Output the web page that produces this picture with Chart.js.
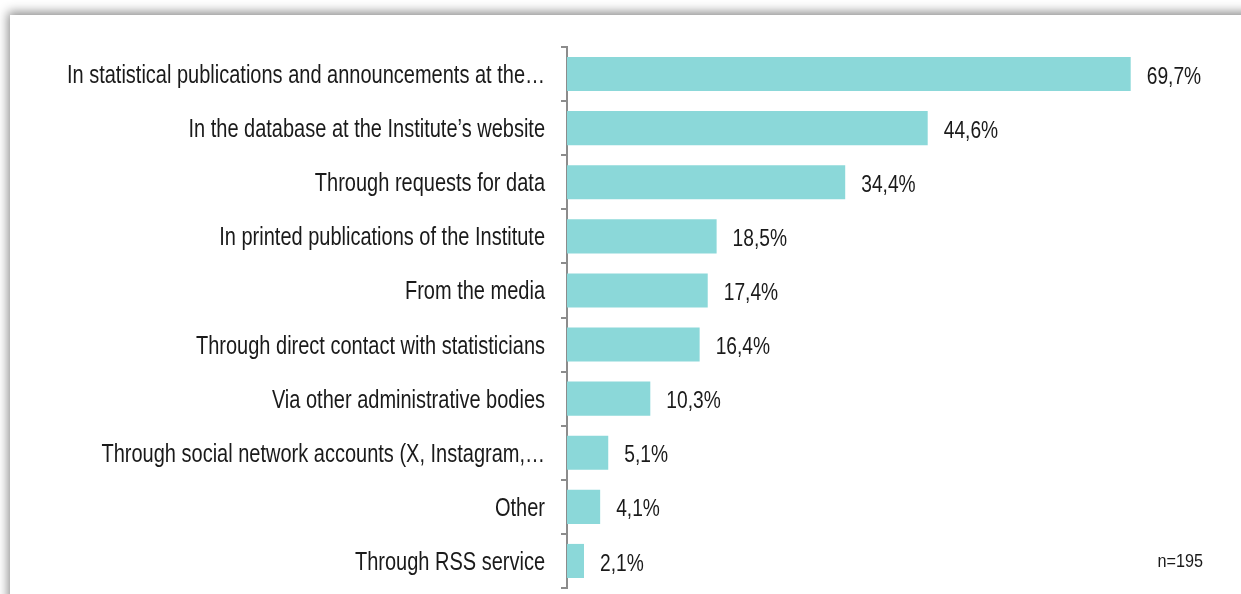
<!DOCTYPE html>
<html>
<head>
<meta charset="utf-8">
<script src="https://cdn.jsdelivr.net/npm/chart.js@4.4.1/dist/chart.umd.min.js"></script>
<style>
  html, body { margin: 0; padding: 0; background: #ffffff; overflow: hidden; }
  .frame {
    position: absolute; left: 10px; top: 15px; width: 1400px; height: 800px;
    background: #ffffff;
    box-shadow: -2px -3px 10px rgba(0, 0, 0, 0.45);
  }
  .wrap { position: absolute; left: 0; top: 0; width: 1241px; height: 594px; }
</style>
</head>
<body>
<div class="frame"></div>
<div class="wrap"><canvas id="sourcesChart" width="1241" height="594"></canvas></div>
<script>
// Fuentes de información (porcentaje de usuarios)
const categories = [
  'In statistical publications and announcements at the\u2026',
  'In the database at the Institute\u2019s website',
  'Through requests for data',
  'In printed publications of the Institute',
  'From the media',
  'Through direct contact with statisticians',
  'Via other administrative bodies',
  'Through social network accounts (X, Instagram,\u2026',
  'Other',
  'Through RSS service'
];
const values = [69.7, 44.6, 34.4, 18.5, 17.4, 16.4, 10.3, 5.1, 4.1, 2.1];
const valueLabels = ['69,7%', '44,6%', '34,4%', '18,5%', '17,4%', '16,4%', '10,3%', '5,1%', '4,1%', '2,1%'];
const sampleNote = 'n=195';

// No hay Arial Narrow: se comprime Liberation Sans en horizontal
const FONT = "'Liberation Sans', Arial, sans-serif";
const NARROW = 0.8;
const AXIS_X = 567;

function narrowText(ctx, text, x, y, size, align, squeeze) {
  ctx.save();
  ctx.font = size + 'px ' + FONT;
  ctx.textAlign = align;
  ctx.textBaseline = 'alphabetic';
  ctx.translate(x, y + size * 0.716 / 2);
  ctx.scale(squeeze, 1);
  ctx.fillText(text, 0, 0);
  ctx.restore();
}

// Etiquetas de categoría, valores al final de cada barra y nota de la muestra
const labelPlugin = {
  id: 'narrowLabels',
  afterDatasetsDraw(chart) {
    const ctx = chart.ctx;
    const yScale = chart.scales.y;
    const meta = chart.getDatasetMeta(0);
    ctx.save();
    ctx.fillStyle = '#1a1a1a';
    categories.forEach((label, i) => {
      narrowText(ctx, label, 545, yScale.getPixelForValue(i), 25, 'right', NARROW);
    });
    meta.data.forEach((bar, i) => {
      narrowText(ctx, valueLabels[i], bar.x + 16, bar.y + 1, 24, 'left', 0.8);
    });
    narrowText(ctx, sampleNote, 1203, 561, 18, 'right', 0.9);
    ctx.restore();
  }
};

new Chart(document.getElementById('sourcesChart'), {
  type: 'bar',
  data: {
    labels: categories,
    datasets: [{
      data: values,
      backgroundColor: '#8bd8d9',
      borderWidth: 0,
      barPercentage: 0.63,
      categoryPercentage: 1
    }]
  },
  options: {
    indexAxis: 'y',
    responsive: false,
    animation: false,
    layout: { padding: { left: 0, top: 47, bottom: 6, right: 27 } },
    plugins: { legend: { display: false }, tooltip: { enabled: false } },
    scales: {
      x: { display: false, min: 0, max: 80 },
      y: {
        afterFit(scale) {
          scale.width = AXIS_X;
          scale.paddingTop = 0;
          scale.paddingBottom = 0;
        },
        border: { color: '#8c8c8c', width: 2 },
        grid: {
          offset: true,
          drawOnChartArea: false,
          tickLength: 6,
          color: '#8c8c8c',
          lineWidth: 2
        },
        ticks: { display: false }
      }
    }
  },
  plugins: [labelPlugin]
});
</script>
</body>
</html>
